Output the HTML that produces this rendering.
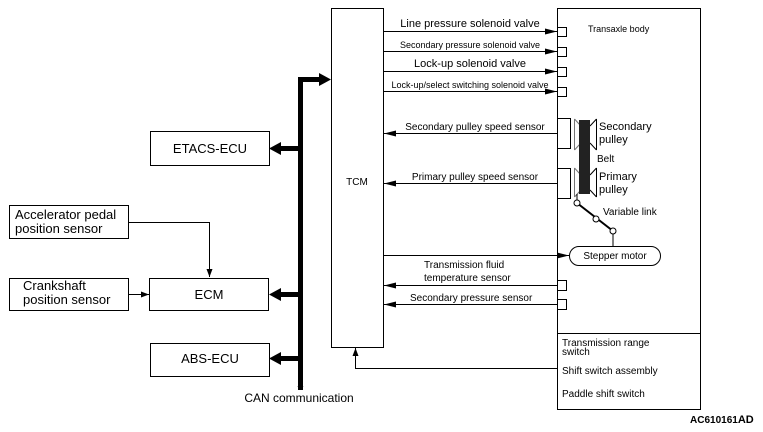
<!DOCTYPE html>
<html><head><meta charset="utf-8"><style>
html,body{margin:0;padding:0;background:#fff;}
svg{display:block;font-family:"Liberation Sans",Arial,sans-serif;}
</style></head><body>
<svg width="763" height="432" viewBox="0 0 763 432" xmlns="http://www.w3.org/2000/svg">
<defs>
<marker id="a" markerWidth="12" markerHeight="6" refX="12" refY="3" orient="auto" markerUnits="userSpaceOnUse"><path d="M0,0 L12,3 L0,6 Z" fill="#000"/></marker>
<marker id="s" markerWidth="8" markerHeight="6" refX="8" refY="3" orient="auto" markerUnits="userSpaceOnUse"><path d="M0,0 L8,3 L0,6 Z" fill="#000"/></marker>
</defs>
<g fill="none" stroke="#000" stroke-width="1">
<rect x="331.5" y="8.5" width="52" height="339"/>
<rect x="557.5" y="8.5" width="143" height="401"/>
<line x1="557" y1="333.5" x2="700" y2="333.5"/>
<rect x="150.5" y="131.5" width="119" height="34"/>
<rect x="9.5" y="205.5" width="119" height="33"/>
<rect x="9.5" y="278.5" width="119" height="32"/>
<rect x="149.5" y="278.5" width="119" height="32"/>
<rect x="150.5" y="343.5" width="119" height="33"/>
<polyline points="128,222.5 209.5,222.5 209.5,277" marker-end="url(#s)"/>
<line x1="128" y1="294.5" x2="149" y2="294.5" marker-end="url(#s)"/>
<polyline points="557,368.5 355.5,368.5 355.5,348" marker-end="url(#s)"/>
<!-- right arrows -->
<line x1="383" y1="31.5" x2="557" y2="31.5" marker-end="url(#a)"/>
<line x1="383" y1="51.5" x2="557" y2="51.5" marker-end="url(#a)"/>
<line x1="383" y1="71.5" x2="557" y2="71.5" marker-end="url(#a)"/>
<line x1="383" y1="91.5" x2="557" y2="91.5" marker-end="url(#a)"/>
<rect x="557.5" y="27.5" width="9" height="9"/>
<rect x="557.5" y="47.5" width="9" height="9"/>
<rect x="557.5" y="67.5" width="9" height="9"/>
<rect x="557.5" y="87.5" width="9" height="9"/>
<line x1="557" y1="133.5" x2="384" y2="133.5" marker-end="url(#a)"/>
<line x1="557" y1="183.5" x2="384" y2="183.5" marker-end="url(#a)"/>
<polyline points="557,118.5 570.5,118.5 570.5,148.5 557,148.5"/>
<polyline points="557,168.5 570.5,168.5 570.5,198.5 557,198.5"/>
<line x1="383" y1="255.5" x2="569" y2="255.5" marker-end="url(#a)"/>
<rect x="569.5" y="246.5" width="91" height="19" rx="9.5"/>
<line x1="557" y1="285.5" x2="384" y2="285.5" marker-end="url(#a)"/>
<line x1="557" y1="304.5" x2="384" y2="304.5" marker-end="url(#a)"/>
<rect x="557.5" y="280.5" width="9" height="10"/>
<rect x="557.5" y="299.5" width="9" height="10"/>
<!-- pulleys -->
<path d="M574.5,119 L574.5,150 M574.5,119 L580,125 M574.5,150 L580,144" stroke="#777"/>
<path d="M596.5,119 L596.5,150 M596.5,119 L590,126 M596.5,150 L590,143"/>
<path d="M574.5,168 L574.5,197 M574.5,168 L580,174 M574.5,197 L580,191" stroke="#777"/>
<path d="M596.5,168 L596.5,197 M596.5,168 L590,175 M596.5,197 L590,190"/>
<line x1="577" y1="194" x2="577" y2="200"/>
<line x1="577" y1="203" x2="613" y2="231" stroke-width="2"/>
<circle cx="577" cy="203" r="3" fill="#fff"/>
<circle cx="596" cy="219" r="3" fill="#fff"/>
<circle cx="613" cy="231" r="3" fill="#fff"/>
<line x1="613" y1="234" x2="613" y2="246"/>
</g>
<rect x="579" y="120" width="11" height="74" fill="#222"/>
<!-- bus -->
<rect x="298" y="77" width="5" height="313" fill="#000"/>
<path d="M298,386 q2,4 5,0" stroke="#000" fill="none"/>
<rect x="298" y="77" width="22" height="5" fill="#000"/>
<path d="M319,73 L331,79.5 L319,86 Z" fill="#000"/>
<rect x="280" y="146" width="20" height="5" fill="#000"/>
<path d="M281,142 L269,148.5 L281,155 Z" fill="#000"/>
<rect x="280" y="292" width="20" height="5" fill="#000"/>
<path d="M281,288 L269,294.5 L281,301 Z" fill="#000"/>
<rect x="280" y="356" width="20" height="5" fill="#000"/>
<path d="M281,352 L269,358.5 L281,365 Z" fill="#000"/>
<g fill="#000" font-size="13">
<text x="210" y="153" text-anchor="middle">ETACS-ECU</text>
<text x="15" y="219">Accelerator pedal</text>
<text x="15" y="233">position sensor</text>
<text x="23" y="290">Crankshaft</text>
<text x="23" y="304">position sensor</text>
<text x="209" y="299" text-anchor="middle">ECM</text>
<text x="210" y="363" text-anchor="middle">ABS-ECU</text>
<text x="299" y="402" text-anchor="middle" font-size="12">CAN communication</text>
<text x="357" y="185" text-anchor="middle" font-size="10">TCM</text>
</g>
<g fill="#000" font-size="10">
<text x="470" y="27" text-anchor="middle" font-size="11">Line pressure solenoid valve</text>
<text x="470" y="48" text-anchor="middle" font-size="9">Secondary pressure solenoid valve</text>
<text x="470" y="67" text-anchor="middle" font-size="11">Lock-up solenoid valve</text>
<text x="470" y="88" text-anchor="middle" font-size="9">Lock-up/select switching solenoid valve</text>
<text x="588" y="32" font-size="9">Transaxle body</text>
<text x="475" y="130" text-anchor="middle">Secondary pulley speed sensor</text>
<text x="475" y="180" text-anchor="middle">Primary pulley speed sensor</text>
<text x="599" y="130" font-size="11">Secondary</text>
<text x="599" y="143" font-size="11">pulley</text>
<text x="597" y="162">Belt</text>
<text x="599" y="180" font-size="11">Primary</text>
<text x="599" y="193" font-size="11">pulley</text>
<text x="603" y="215">Variable link</text>
<text x="615" y="259" text-anchor="middle">Stepper motor</text>
<text x="424" y="268">Transmission fluid</text>
<text x="424" y="281">temperature sensor</text>
<text x="410" y="301">Secondary pressure sensor</text>
<text x="562" y="346">Transmission range</text>
<text x="562" y="355">switch</text>
<text x="562" y="374">Shift switch assembly</text>
<text x="562" y="397">Paddle shift switch</text>
<text x="690" y="423" font-weight="bold" font-size="10">AC610161<tspan font-size="11">AD</tspan></text>
</g>
</svg>
</body></html>
